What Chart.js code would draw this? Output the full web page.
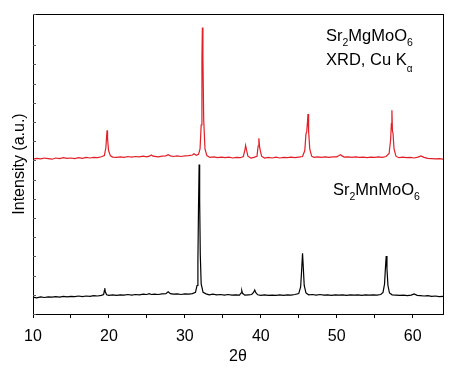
<!DOCTYPE html>
<html>
<head>
<meta charset="utf-8">
<script src="https://cdn.jsdelivr.net/npm/chart.js@4/dist/chart.umd.min.js"></script>
<style>
  html, body { margin: 0; padding: 0; background: #fff; }
  #wrap { width: 456px; height: 370px; }
</style>
</head>
<body>
<div id="wrap"><canvas id="xrdChart" width="456" height="370"></canvas></div>
<script>
// Sr2MgMoO6 pattern (offset upward in the plot)
const redTheta = [
  10.0, 10.5, 11.0, 11.5, 12.0, 12.5, 13.0, 13.5, 14.0, 14.5, 15.0, 15.5, 16.0, 16.5, 17.0, 17.5,
  18.0, 18.5, 19.0, 19.4, 19.6, 19.7, 19.76, 19.82, 19.95, 20.2, 20.5, 21.0, 21.5, 22.0, 22.5,
  23.0, 23.5, 24.0, 24.5, 25.0, 25.4, 25.6, 25.8, 26.5, 27.0, 27.5, 27.8, 28.1, 28.5, 29.0, 29.5,
  30.0, 30.5, 31.0, 31.2, 31.5, 31.8, 32.0, 32.15, 32.25, 32.31, 32.38, 32.48, 32.65, 32.9, 33.3,
  33.8, 34.3, 34.8, 35.3, 35.8, 36.3, 36.8, 37.3, 37.7, 37.9, 38.0, 38.1, 38.3, 38.7, 39.1, 39.5,
  39.65, 39.75, 39.85, 40.1, 40.5, 41.0, 41.5, 42.0, 42.5, 43.0, 43.5, 44.0, 44.5, 45.0, 45.5,
  45.8, 45.95, 46.05, 46.15, 46.22, 46.3, 46.45, 46.7, 47.0, 47.5, 48.0, 48.5, 49.0, 49.5, 50.0,
  50.3, 50.5, 50.7, 51.0, 51.5, 52.0, 52.5, 53.0, 53.5, 54.0, 54.5, 55.0, 55.5, 56.0, 56.5, 56.9,
  57.1, 57.2, 57.27, 57.34, 57.42, 57.55, 57.8, 58.2, 58.7, 59.2, 59.7, 60.2, 60.7, 61.1, 61.5,
  62.0, 62.5, 63.0, 63.5, 64.0
];
const redCounts = [
  51.6, 51.9, 51.7, 52.0, 51.8, 51.6, 52.0, 51.8, 52.1, 51.9, 52.0, 51.8, 52.1, 51.9, 52.2, 52.0,
  52.2, 52.1, 52.4, 52.8, 55.5, 59.5, 61.2, 58.5, 54.5, 52.7, 52.3, 52.2, 52.4, 52.2, 52.5,
  52.3, 52.5, 52.4, 52.6, 52.4, 52.7, 53.0, 52.6, 52.4, 52.6, 52.7, 53.1, 52.7, 52.5, 52.7, 52.5,
  52.7, 52.8, 53.0, 53.4, 52.9, 53.2, 55.0, 63.0, 85.0, 95.5, 86.0, 65.0, 55.0, 52.8, 52.2,
  52.4, 52.1, 52.3, 52.1, 52.3, 52.0, 52.2, 52.1, 52.5, 54.5, 56.2, 55.0, 52.6, 52.0, 52.2, 52.6,
  56.0, 58.6, 55.5, 52.6, 52.0, 52.2, 52.0, 52.3, 52.0, 52.2, 52.1, 52.3, 52.1, 52.3, 52.5,
  54.5, 60.0, 60.7, 64.0, 66.7, 61.0, 55.0, 52.6, 52.2, 52.4, 52.2, 52.4, 52.2, 52.4, 52.4,
  52.8, 53.1, 52.7, 52.3, 52.4, 52.2, 52.4, 52.2, 52.3, 52.1, 52.3, 52.2, 52.4, 52.2, 52.5, 53.5,
  58.0, 63.5, 67.9, 61.0, 60.2, 55.0, 52.6, 52.1, 52.3, 52.1, 52.2, 52.0, 52.3, 52.7, 52.2,
  51.9, 51.8, 51.7, 51.8, 51.6
];

// Sr2MnMoO6 pattern
const blackTheta = [
  10.0, 10.5, 11.0, 11.5, 12.0, 12.5, 13.0, 13.5, 14.0, 14.5, 15.0, 15.5, 16.0, 16.5, 17.0, 17.5,
  18.0, 18.5, 19.0, 19.3, 19.4, 19.45, 19.52, 19.7, 20.0, 20.5, 21.0, 21.5, 22.0, 22.5, 23.0,
  23.5, 24.0, 24.5, 25.0, 25.3, 25.6, 26.0, 26.5, 27.0, 27.5, 27.8, 28.1, 28.5, 29.0, 29.5, 30.0,
  30.5, 31.0, 31.4, 31.6, 31.72, 31.8, 31.88, 31.95, 32.03, 32.15, 32.4, 32.8, 33.2, 33.7, 34.2,
  34.7, 35.2, 35.7, 36.2, 36.7, 37.2, 37.4, 37.5, 37.6, 37.9, 38.4, 38.8, 39.05, 39.2, 39.35,
  39.6, 40.0, 40.5, 41.0, 41.5, 42.0, 42.5, 43.0, 43.5, 44.0, 44.5, 45.0, 45.25, 45.38, 45.5,
  45.6, 45.72, 45.95, 46.3, 46.8, 47.3, 47.8, 48.3, 48.8, 49.3, 49.8, 50.3, 50.8, 51.3, 51.8,
  52.3, 52.8, 53.3, 53.8, 54.3, 54.8, 55.3, 55.8, 56.1, 56.3, 56.42, 56.52, 56.62, 56.75, 56.95,
  57.3, 57.8, 58.3, 58.8, 59.3, 59.8, 60.2, 60.6, 61.0, 61.5, 62.0, 62.5, 63.0, 63.5, 64.0
];
const blackCounts = [
  5.6, 5.4, 5.7, 5.5, 5.7, 5.6, 5.8, 5.6, 5.9, 5.7, 5.9, 5.8, 6.0, 5.8, 6.0, 5.9,
  6.1, 6.0, 6.2, 6.5, 7.8, 8.6, 7.4, 6.4, 6.2, 6.4, 6.2, 6.4, 6.3, 6.5, 6.3,
  6.5, 6.4, 6.6, 6.5, 6.8, 6.5, 6.6, 6.5, 6.7, 6.8, 7.4, 6.8, 6.6, 6.7, 6.5, 6.7,
  6.6, 6.8, 7.2, 9.5, 18.0, 36.0, 49.8, 38.0, 20.0, 10.0, 7.2, 6.7, 6.4, 6.6, 6.4,
  6.5, 6.3, 6.5, 6.3, 6.4, 6.3, 7.0, 7.8, 6.9, 6.3, 6.4, 6.5, 7.2, 8.0, 7.1,
  6.4, 6.2, 6.4, 6.2, 6.3, 6.2, 6.4, 6.2, 6.4, 6.3, 6.5, 6.8, 9.0, 14.5, 20.2,
  15.5, 9.5, 7.0, 6.4, 6.5, 6.3, 6.5, 6.3, 6.4, 6.2, 6.4, 6.3, 6.4, 6.2, 6.4,
  6.3, 6.4, 6.2, 6.4, 6.3, 6.4, 6.3, 6.5, 7.2, 10.0, 15.5, 19.3, 15.0, 9.5, 7.0,
  6.4, 6.3, 6.2, 6.3, 6.1, 6.3, 6.7, 6.2, 6.1, 6.0, 6.1, 5.9, 6.0, 5.8, 5.9
];

const xMin = 10;
const xMax = 64;
const FONT = '"Liberation Sans", Arial, sans-serif';

function toPoints(xs, ys) {
  return xs.map((x, i) => ({ x: x, y: ys[i] }));
}

// text with subscripts, parts: [text, isSub, subDrop, subSize]
function drawRich(ctx, x, y, parts) {
  let cx = x;
  parts.forEach((p) => {
    const sub = p[1];
    ctx.font = (sub ? (p[3] || 10.5) : 16.5) + "px " + FONT;
    ctx.fillText(p[0], cx, sub ? y + (p[2] || 5) : y);
    cx += ctx.measureText(p[0]).width;
  });
}

const framePlugin = {
  id: "frame",
  afterDraw(chart) {
    const ctx = chart.ctx;
    const a = chart.chartArea;
    const y = chart.scales.y;
    ctx.save();
    ctx.strokeStyle = "#000";
    ctx.lineWidth = 1;
    ctx.strokeRect(Math.round(a.left) + 0.5, Math.round(a.top) + 0.5,
      Math.round(a.right - a.left), Math.round(a.bottom - a.top));

    // small inward ticks on the left axis
    ctx.strokeStyle = "#555";
    y.ticks.forEach((t) => {
      const py = Math.round(y.getPixelForValue(t.value)) + 0.5;
      ctx.beginPath();
      ctx.moveTo(a.left, py);
      ctx.lineTo(a.left + 3, py);
      ctx.stroke();
    });

    ctx.fillStyle = "#000";
    ctx.textBaseline = "alphabetic";
    ctx.textAlign = "left";
    drawRich(ctx, a.left + 293, a.top + 27, [["Sr"], ["2", true], ["MgMoO"], ["6", true]]);
    drawRich(ctx, a.left + 293, a.top + 51, [["XRD, Cu K"], ["\u03b1", true, 7, 10]]);
    drawRich(ctx, a.left + 300, a.top + 181, [["Sr"], ["2", true], ["MnMoO"], ["6", true]]);
    ctx.restore();
  }
};

new Chart(document.getElementById("xrdChart"), {
  type: "line",
  data: {
    datasets: [
      {
        label: "Sr2MgMoO6",
        data: toPoints(redTheta, redCounts),
        borderColor: "rgb(226, 30, 38)",
        borderWidth: 1.2,
        pointRadius: 0,
        tension: 0,
        fill: false
      },
      {
        label: "Sr2MnMoO6",
        data: toPoints(blackTheta, blackCounts),
        borderColor: "#000",
        borderWidth: 1.2,
        pointRadius: 0,
        tension: 0,
        fill: false
      }
    ]
  },
  options: {
    responsive: false,
    animation: false,
    layout: { padding: { top: 14, right: 13, left: 0, bottom: 0 } },
    plugins: {
      legend: { display: false },
      tooltip: { enabled: false }
    },
    scales: {
      x: {
        type: "linear",
        min: xMin,
        max: xMax,
        afterFit(scale) { scale.height = 56; },
        border: { display: false },
        grid: {
          drawOnChartArea: false,
          drawTicks: true,
          tickLength: 4,
          color: "#000"
        },
        ticks: {
          stepSize: 5,
          includeBounds: false,
          maxRotation: 0,
          autoSkip: false,
          padding: 9,
          color: "#000",
          font: { family: FONT, size: 16 },
          callback: (v) => (v % 10 === 0 ? String(v) : "")
        },
        title: {
          display: true,
          text: "2\u03b8",
          color: "#000",
          font: { family: FONT, size: 16 },
          padding: { top: 0, bottom: 4 }
        }
      },
      y: {
        min: 0,
        max: 100,
        afterFit(scale) { scale.width = 33; },
        border: { display: false },
        grid: { drawOnChartArea: false, drawTicks: false },
        ticks: { display: false, stepSize: 6.4 },
        title: {
          display: true,
          text: "Intensity (a.u.)",
          color: "#000",
          font: { family: FONT, size: 16 },
          padding: { top: 10, bottom: 0 }
        }
      }
    }
  },
  plugins: [framePlugin]
});
</script>
</body>
</html>
